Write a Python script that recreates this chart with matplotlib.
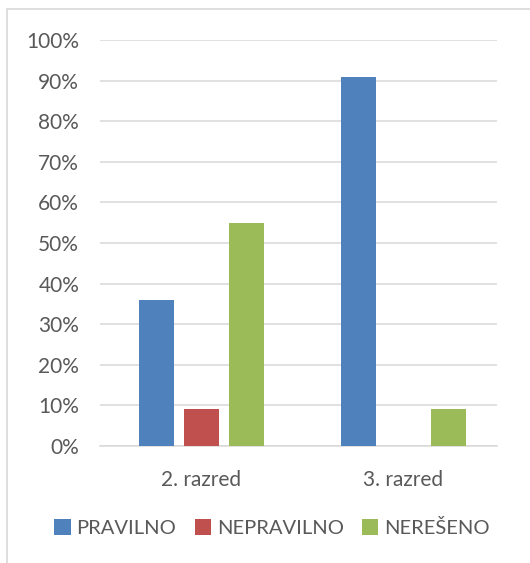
import numpy as np
import matplotlib.pyplot as plt
from matplotlib.patches import Rectangle

# data
categories = ["2. razred", "3. razred"]
series = ["PRAVILNO", "NEPRAVILNO", "NEREŠENO"]
pravilno = [36, 91]
nepravilno = [9, 0]
nereseno = [55, 9]
yticks = [0, 10, 20, 30, 40, 50, 60, 70, 80, 90, 100]

colors = ["#4F81BD", "#C0504D", "#9BBB59"]
text_color = "#595959"
grid_color = "#D9D9D9"

plt.rcParams["font.family"] = ["Lato", "DejaVu Sans"]

fig = plt.figure(figsize=(5.3, 5.63), dpi=100)
ax = fig.add_axes([100 / 530, 1 - 446 / 563, 397 / 530, 406 / 563])

# outer chart frame
fig.patches.append(Rectangle((7 / 530, -0.1), 1.2, 1 - 9 / 563 + 0.1,
                             transform=fig.transFigure, fill=False,
                             edgecolor="#D9D9D9", linewidth=1.2))

x = np.arange(len(categories))
width = 0.178
offset = 0.2228
for i, (vals, name) in enumerate(zip([pravilno, nepravilno, nereseno], series)):
    ax.bar(x + (i - 1) * offset, vals, width, color=colors[i], label=name,
           zorder=3)

ax.set_xlim(-0.5025, 1.4629)
ax.set_ylim(0, 100)
ax.set_yticks(yticks)
ax.set_yticklabels([f"{t}%" for t in yticks])
ax.set_xticks(x)
ax.set_xticklabels(categories)
ax.grid(axis="y", color=grid_color, linewidth=1.1, zorder=0)
for s in ["top", "right", "left"]:
    ax.spines[s].set_visible(False)
ax.spines["bottom"].set_color(grid_color)
ax.spines["bottom"].set_linewidth(1.1)
ax.tick_params(axis="both", length=0, colors=text_color, labelsize=15)
ax.tick_params(axis="y", pad=15)
ax.tick_params(axis="x", pad=17)

fig.legend(loc="center", bbox_to_anchor=(272 / 530, 1 - 528 / 563), ncol=3,
           frameon=False, fontsize=14.5, labelcolor=text_color,
           handlelength=0.8, handleheight=0.8, handletextpad=0.3,
           columnspacing=0.9)

fig.savefig("out.png", dpi=100, facecolor="white")
